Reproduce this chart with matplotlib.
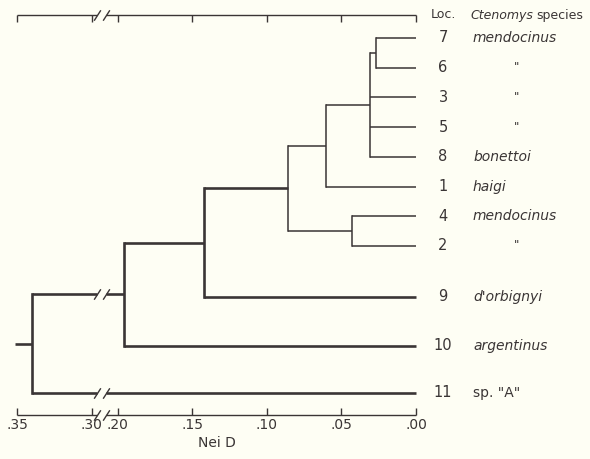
import numpy as np
import matplotlib
matplotlib.use('Agg')
import matplotlib.pyplot as plt
from matplotlib.path import Path
from matplotlib.transforms import blended_transform_factory

# ---------------- data ----------------
leaf_labels = ['7', '6', '3', '5', '8', '1', '4', '2', '9', '10', '11']
species = ['mendocinus', '"', '"', '"', 'bonettoi', 'haigi', 'mendocinus', '"',
           "d'orbignyi", 'argentinus', 'sp. "A"']
node_names = ['a', 'b', 'c', 'd', 'e', 'f', 'g', 'root']
node_children = [['7', '6'], ['a', '3', '5', '8'], ['b', '1'], ['4', '2'],
                 ['c', 'd'], ['e', '9'], ['f', '10'], ['g', '11']]
node_dist = [0.027, 0.031, 0.060, 0.043, 0.086, 0.142, 0.196, 0.340]
tick_values = [0.35, 0.30, 0.20, 0.15, 0.10, 0.05, 0.00]
tick_labels = ['.35', '.30', '.20', '.15', '.10', '.05', '.00']

# ---------------- layout / style ----------------
row_steps = [0, 1, 1, 1, 1, 1, 1, 1, 1.72, 1.65, 1.58]
thick_nodes = {'f', 'g', 'root'}
INK = '#3a3535'
BG = '#fefef4'
LW_THIN, LW_THICK = 1.1, 1.9
BRK_LO, BRK_HI = 0.20, 0.30
GAP = 0.05 * 26 / 74.75


def fwd(d):
    d = np.asarray(d, dtype=float)
    return np.where(d <= BRK_LO, d,
                    np.where(d >= BRK_HI, d - (BRK_HI - BRK_LO) + GAP,
                             BRK_LO + (d - BRK_LO) * GAP / (BRK_HI - BRK_LO)))


def inv(t):
    t = np.asarray(t, dtype=float)
    return np.where(t <= BRK_LO, t,
                    np.where(t >= BRK_LO + GAP, t + (BRK_HI - BRK_LO) - GAP,
                             BRK_LO + (t - BRK_LO) * (BRK_HI - BRK_LO) / GAP))


W, H = 590, 459
fig = plt.figure(figsize=(W / 100, H / 100), dpi=100, facecolor=BG)
ax = fig.add_axes([17 / W, 1 - 415 / H, 399 / W, 400 / H])
ax.set_facecolor(BG)
ax.set_xscale('function', functions=(fwd, inv))
ax.set_xlim(0.35, 0.0)
row0 = (38 - 15) / 29.7
ax.set_ylim((415 - 38) / 29.7, -row0)
for s in ax.spines.values():
    s.set_visible(False)

# break marker shape
slash = Path([(-0.32, -0.5), (0.32, 0.5)], [Path.MOVETO, Path.LINETO])
brk_a = BRK_HI - 0.20 * (BRK_HI - BRK_LO)
brk_b = BRK_HI - 0.55 * (BRK_HI - BRK_LO)


def hline(x0, x1, y, lw, transform=None):
    """horizontal line from x0 to x1 (Nei D), with break marks if it crosses the gap"""
    kw = dict(color=INK, lw=lw, clip_on=False, solid_capstyle='butt')
    if transform is not None:
        kw['transform'] = transform
    hi, lo = max(x0, x1), min(x0, x1)
    if hi > brk_a and lo < brk_b:
        ax.plot([hi, brk_a], [y, y], **kw)
        ax.plot([brk_b, lo], [y, y], **kw)
        ax.plot([brk_a, brk_b], [y, y], ls='none', marker=slash, ms=7.5,
                mec=INK, mew=1.0, clip_on=False,
                **({'transform': transform} if transform is not None else {}))
    else:
        ax.plot([x0, x1], [y, y], **kw)


# ---------------- dendrogram ----------------
leaf_y = dict(zip(leaf_labels, np.cumsum(row_steps)))
pos = {k: (0.0, v) for k, v in leaf_y.items()}
for name, kids, dist in zip(node_names, node_children, node_dist):
    lw = LW_THICK if name in thick_nodes else LW_THIN
    ys = [pos[k][1] for k in kids]
    for k in kids:
        hline(pos[k][0], dist, pos[k][1], lw)
    ax.plot([dist, dist], [min(ys), max(ys)], color=INK, lw=lw,
            solid_capstyle='projecting')
    pos[name] = (dist, (min(ys) + max(ys)) / 2)
root_x, root_y = pos['root']
hline(root_x, 0.3515, root_y, LW_THICK)

# ---------------- axes (top & bottom scale bars) ----------------
ax.set_xticks(tick_values)
ax.set_xticklabels(tick_labels)
ax.set_yticks([])
ax.tick_params(axis='x', direction='in', length=5, width=1.0, color=INK,
               top=True, bottom=True, labeltop=False, labelbottom=True,
               pad=2, labelsize=10, labelcolor=INK)
xt = ax.get_xaxis_transform()
for yy in (0, 1):
    hline(0.35, 0.0, yy, 1.0, transform=xt)
ax.set_xlabel('Nei D', fontsize=10, color=INK, labelpad=3)

# ---------------- labels ----------------
tr = blended_transform_factory(fig.transFigure, ax.transData)
for lab, sp in zip(leaf_labels, species):
    y = leaf_y[lab]
    ax.text(443 / W, y, lab, transform=tr, ha='center', va='center',
            fontsize=10.5, color=INK)
    if sp == '"':
        ax.text(517 / W, y, '"', transform=tr, ha='center', va='center',
                fontsize=8.5, color=INK)
    elif sp.startswith('sp.'):
        ax.text(473 / W, y, sp, transform=tr, ha='left', va='center',
                fontsize=10, color=INK)
    else:
        ax.text(473 / W, y, sp, transform=tr, ha='left', va='center',
                fontsize=10, color=INK, style='italic')

trh = blended_transform_factory(fig.transFigure, ax.transAxes)
ax.text(443 / W, 1.0, 'Loc.', transform=trh, ha='center', va='center',
        fontsize=9, color=INK)
gen = ax.text(470 / W, 1.0, 'Ctenomys', transform=trh, ha='left', va='center',
              fontsize=9, color=INK, style='italic')
ax.annotate('species', xy=(1, 0.5), xycoords=gen, xytext=(2.5, 0),
            textcoords='offset points', ha='left', va='center',
            fontsize=9, color=INK)

fig.savefig('out.png', dpi=100, facecolor=BG)
